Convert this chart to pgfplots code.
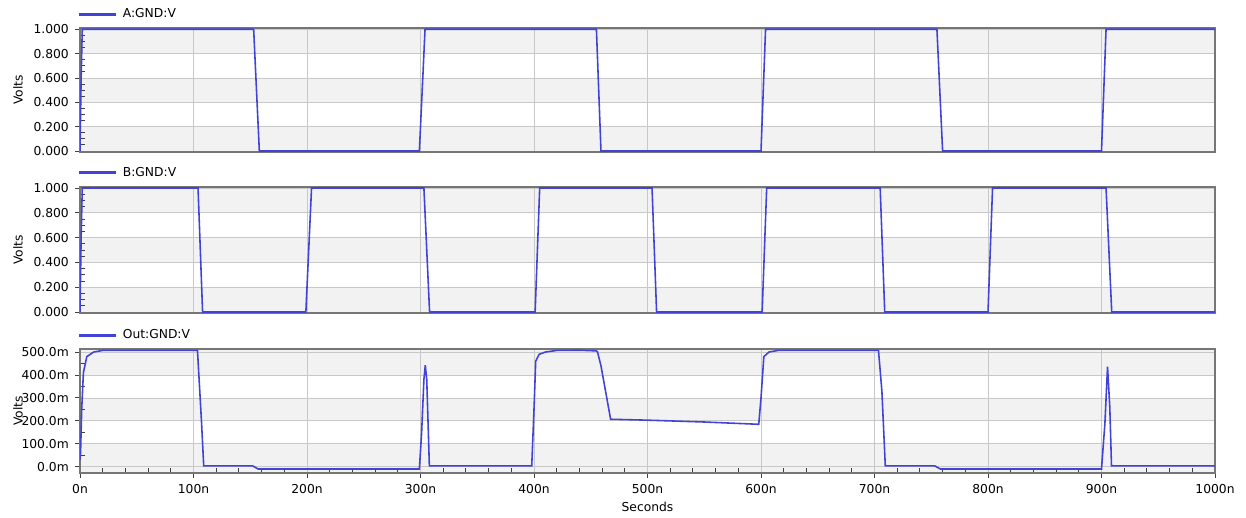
\documentclass[border=0pt]{standalone}
\usepackage{fontspec}
\setmainfont{DejaVu Sans}
\usepackage{pgfplots}
\pgfplotsset{compat=1.18}

\definecolor{trace}{RGB}{66,66,214}
\definecolor{band}{RGB}{242,242,242}
\definecolor{gridc}{RGB}{200,200,200}
\definecolor{framec}{RGB}{118,118,118}

\pgfplotsset{
  panel/.style={
    scale only axis, width=22.7cm, xmin=0, xmax=1000,
    set layers,
    axis line style={framec, line width=1.1pt},
    grid style={gridc, line width=0.45pt},
    xmajorgrids, ymajorgrids,
    tick pos=left, tick align=outside,
    major tick length=0.1cm, minor tick length=0.1cm,
    tick style={black!75, line width=0.5pt},
    minor y tick style={xshift=0.1cm},
    tick label style={font=\fontsize{7pt}{8pt}\selectfont},
    label style={font=\fontsize{7pt}{8pt}\selectfont},
    every axis y label/.style={at={(axis description cs:0,0.5)}, xshift=-1.24cm, rotate=90, anchor=center},
    legend style={at={(axis description cs:0,1)}, anchor=west, yshift=0.28cm, xshift=-0.05cm,
      draw=none, fill=none, inner sep=0pt, font=\fontsize{7pt}{8pt}\selectfont,
      nodes={inner sep=0.1cm}},
    legend image code/.code={\draw[#1,line width=1.7pt] (0cm,0cm) -- (0.74cm,0cm);},
    ylabel={Volts},
  },
  digital/.style={
    panel, ymin=-0.008, ymax=1.008,
    ytick={0,0.2,0.4,0.6,0.8,1.0},
    yticklabels={0.000,0.200,0.400,0.600,0.800,1.000},
    minor y tick num=3,
    xtick={100,200,300,400,500,600,700,800,900}, xticklabels={},
    major x tick style={draw=none},
  },
}

\begin{document}
\begin{tikzpicture}[font=\fontsize{7pt}{8pt}\selectfont]

% ---------- A ----------
\begin{axis}[digital, at={(1.6cm,7.30cm)}, anchor=south west, height=2.474cm]
\pgfplotsextra{\begin{pgfonlayer}{axis background}
\fill[band] (axis cs:0,0.8) rectangle (axis cs:1000,1.008);
\fill[band] (axis cs:0,0.4) rectangle (axis cs:1000,0.6);
\fill[band] (axis cs:0,-0.008) rectangle (axis cs:1000,0.2);
\end{pgfonlayer}}
\addplot[trace, line width=0.9pt] coordinates {
(0,0)(1,0.6)(2,1.0)(153,1.0)(158,0)(299,0)(304,1.0)(455,1.0)(459,0)
(600,0)(604,1.0)(755,1.0)(760,0)(900,0)(904,1.0)(1000,1.0)};
\addlegendentry{A:GND:V}
\end{axis}

% ---------- B ----------
\begin{axis}[digital, at={(1.6cm,4.08cm)}, anchor=south west, height=2.52cm]
\pgfplotsextra{\begin{pgfonlayer}{axis background}
\fill[band] (axis cs:0,0.8) rectangle (axis cs:1000,1.008);
\fill[band] (axis cs:0,0.4) rectangle (axis cs:1000,0.6);
\fill[band] (axis cs:0,-0.008) rectangle (axis cs:1000,0.2);
\end{pgfonlayer}}
\addplot[trace, line width=0.9pt] coordinates {
(0,0)(1,0.6)(2,1.0)(104,1.0)(108,0)(199,0)(204,1.0)(303,1.0)(308,0)
(401,0)(405,1.0)(504,1.0)(508,0)(601,0)(605,1.0)(705,1.0)(709,0)
(800,0)(804,1.0)(904,1.0)(909,0)(1000,0)};
\addlegendentry{B:GND:V}
\end{axis}

% ---------- Out ----------
\begin{axis}[panel, at={(1.6cm,0.886cm)}, anchor=south west, height=2.468cm,
  ymin=-0.026, ymax=0.512,
  ytick={0,0.1,0.2,0.3,0.4,0.5},
  yticklabels={0.0m,100.0m,200.0m,300.0m,400.0m,500.0m},
  minor y tick num=1,
  xtick={0,100,200,300,400,500,600,700,800,900,1000},
  xticklabels={0n,100n,200n,300n,400n,500n,600n,700n,800n,900n,1000n},
  minor x tick num=4,
  minor x tick style={yshift=0.1cm},
  xlabel={Seconds},
  xlabel style={yshift=0.06cm},
]
\pgfplotsextra{\begin{pgfonlayer}{axis background}
\fill[band] (axis cs:0,0.4) rectangle (axis cs:1000,0.512);
\fill[band] (axis cs:0,0.2) rectangle (axis cs:1000,0.3);
\fill[band] (axis cs:0,-0.026) rectangle (axis cs:1000,0.1);
\end{pgfonlayer}}
\addplot[trace, line width=0.9pt] coordinates {
(0,0.03)(0.5,0.06)(1.5,0.25)(3,0.41)(6,0.48)(12,0.50)(20,0.507)
(103.5,0.507)(107,0.2)(109,0.004)(152,0.004)(157,-0.01)(299,-0.01)
(301,0.15)(303,0.38)(304.2,0.443)(305.5,0.38)(307.8,0.004)(398,0.004)
(400,0.25)(401.5,0.46)(404.5,0.49)(410,0.50)(420,0.507)(440,0.508)
(455,0.505)(456,0.50)(459,0.44)(467.5,0.207)(500,0.203)(550,0.195)
(598,0.185)(600,0.3)(602.5,0.48)(607,0.50)(615,0.507)(703.5,0.507)
(706.5,0.33)(709.5,0.004)(753,0.004)(758,-0.01)(900,-0.01)(903,0.19)
(905.3,0.436)(907.3,0.26)(908.8,0.004)(1000,0.004)};
\addlegendentry{Out:GND:V}
\end{axis}
\path (0,0) rectangle (24.92cm,10.34cm);
\end{tikzpicture}
\end{document}
